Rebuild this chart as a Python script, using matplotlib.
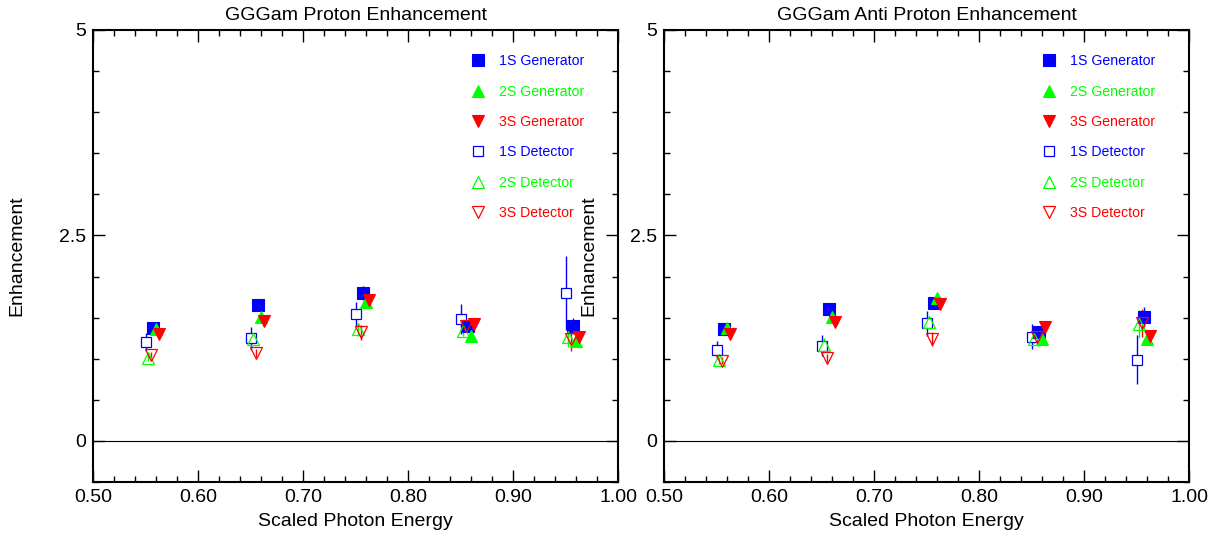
import matplotlib
matplotlib.use("Agg")
import matplotlib.pyplot as plt
from matplotlib.lines import Line2D
from matplotlib.ticker import FixedLocator, MultipleLocator

plt.rcParams['font.family'] = ['Liberation Sans', 'DejaVu Sans']

# ---- data ----
titles = ["GGGam Proton Enhancement", "GGGam Anti Proton Enhancement"]
series_names = ["1S Generator", "2S Generator", "3S Generator",
                "1S Detector", "2S Detector", "3S Detector"]

x_1s_gen = [0.5575, 0.6575, 0.7575, 0.8575, 0.9575]
x_2s_gen = [0.5600, 0.6600, 0.7600, 0.8600, 0.9600]
x_3s_gen = [0.5625, 0.6625, 0.7625, 0.8625, 0.9625]
x_1s_det = [0.5500, 0.6500, 0.7500, 0.8500, 0.9500]
x_2s_det = [0.5525, 0.6525, 0.7525, 0.8525, 0.9525]
x_3s_det = [0.5550, 0.6550, 0.7550, 0.8550, 0.9550]

# Proton panel
p_1s_gen = [1.37, 1.655, 1.80, 1.40, 1.40]
p_1s_gen_err = [0.03, 0.06, 0.08, 0.04, 0.10]
p_2s_gen = [1.36, 1.505, 1.695, 1.28, 1.22]
p_2s_gen_err = [0.03, 0.03, 0.03, 0.03, 0.03]
p_3s_gen = [1.30, 1.456, 1.72, 1.42, 1.26]
p_3s_gen_err = [0.03, 0.03, 0.03, 0.03, 0.03]
p_1s_det = [1.20, 1.25, 1.54, 1.485, 1.80]
p_1s_det_err = [0.11, 0.14, 0.15, 0.18, 0.45]
p_2s_det = [1.01, 1.24, 1.36, 1.34, 1.26]
p_2s_det_err = [0.04, 0.05, 0.08, 0.06, 0.12]
p_3s_det = [1.04, 1.07, 1.32, 1.40, 1.24]
p_3s_det_err = [0.04, 0.05, 0.09, 0.07, 0.15]

# Anti proton panel
a_1s_gen = [1.356, 1.61, 1.68, 1.32, 1.51]
a_1s_gen_err = [0.03, 0.04, 0.04, 0.05, 0.12]
a_2s_gen = [1.376, 1.51, 1.74, 1.24, 1.24]
a_2s_gen_err = [0.03, 0.03, 0.03, 0.03, 0.03]
a_3s_gen = [1.30, 1.445, 1.67, 1.39, 1.275]
a_3s_gen_err = [0.03, 0.03, 0.03, 0.03, 0.03]
a_1s_det = [1.11, 1.16, 1.43, 1.27, 0.99]
a_1s_det_err = [0.10, 0.13, 0.15, 0.15, 0.30]
a_2s_det = [0.98, 1.17, 1.45, 1.24, 1.42]
a_2s_det_err = [0.04, 0.08, 0.07, 0.05, 0.17]
a_3s_det = [0.975, 1.01, 1.24, 1.26, 1.44]
a_3s_det_err = [0.04, 0.05, 0.08, 0.06, 0.17]

x_ticks = [0.50, 0.60, 0.70, 0.80, 0.90, 1.00]
x_tick_labels = ["0.50", "0.60", "0.70", "0.80", "0.90", "1.00"]
y_ticks = [0, 2.5, 5]
y_tick_labels = ["0", "2.5", "5"]

# ---- styles ----
BLUE, GREEN, RED = "#0000ff", "#00ff00", "#ff0000"
styles = {
    "1S Generator": dict(color=BLUE, marker='s', ms=8.0, mfc=BLUE, mew=0.8),
    "2S Generator": dict(color=GREEN, marker='^', ms=8.5, mfc=GREEN, mew=0.8),
    "3S Generator": dict(color=RED, marker='v', ms=8.5, mfc=RED, mew=0.8),
    "1S Detector": dict(color=BLUE, marker='s', ms=7.8, mfc='white', mew=0.9),
    "2S Detector": dict(color=GREEN, marker='^', ms=8.0, mfc='none', mew=0.9),
    "3S Detector": dict(color=RED, marker='v', ms=8.0, mfc='none', mew=0.9),
}
label_colors = [BLUE, GREEN, RED, BLUE, GREEN, RED]

panels = [
    {
        "1S Generator": (x_1s_gen, p_1s_gen, p_1s_gen_err),
        "2S Generator": (x_2s_gen, p_2s_gen, p_2s_gen_err),
        "3S Generator": (x_3s_gen, p_3s_gen, p_3s_gen_err),
        "1S Detector": (x_1s_det, p_1s_det, p_1s_det_err),
        "2S Detector": (x_2s_det, p_2s_det, p_2s_det_err),
        "3S Detector": (x_3s_det, p_3s_det, p_3s_det_err),
    },
    {
        "1S Generator": (x_1s_gen, a_1s_gen, a_1s_gen_err),
        "2S Generator": (x_2s_gen, a_2s_gen, a_2s_gen_err),
        "3S Generator": (x_3s_gen, a_3s_gen, a_3s_gen_err),
        "1S Detector": (x_1s_det, a_1s_det, a_1s_det_err),
        "2S Detector": (x_2s_det, a_2s_det, a_2s_det_err),
        "3S Detector": (x_3s_det, a_3s_det, a_3s_det_err),
    },
]

draw_order = ["1S Detector", "1S Generator", "2S Generator", "3S Generator",
              "2S Detector", "3S Detector"]

W, H = 1223, 535
fig = plt.figure(figsize=(W / 100, H / 100), dpi=100)
axes_px = [(93, 30, 618, 482), (664, 30, 1189, 482)]
ylabel_x = [-0.128, -0.126]

for i, (l, t, r, b) in enumerate(axes_px):
    ax = fig.add_axes([l / W, 1 - b / H, (r - l) / W, (b - t) / H])
    data = panels[i]
    ax.axhline(0, color='black', lw=0.8, zorder=1)
    for name in draw_order:
        xs, ys, es = data[name]
        st = styles[name]
        ax.errorbar(xs, ys, yerr=es, fmt='none', ecolor=st['color'],
                    elinewidth=1.0, capsize=0, zorder=2)
        ax.plot(xs, ys, linestyle='none', marker=st['marker'], ms=st['ms'],
                mfc=st['mfc'], mec=st['color'], mew=st['mew'], zorder=3)
    ax.set_xlim(0.5, 1.0)
    ax.set_ylim(-0.5, 5)
    ax.xaxis.set_major_locator(FixedLocator(x_ticks))
    ax.set_xticklabels(x_tick_labels)
    ax.xaxis.set_minor_locator(MultipleLocator(0.02))
    ax.yaxis.set_major_locator(FixedLocator(y_ticks))
    ax.set_yticklabels(y_tick_labels)
    ax.yaxis.set_minor_locator(MultipleLocator(0.5))
    ax.tick_params(which='both', direction='in', top=True, right=True,
                   labelsize=14, width=1.0, color='black')
    ax.tick_params(which='major', length=8.5, pad=5)
    ax.tick_params(which='minor', length=4.3)
    for sp in ax.spines.values():
        sp.set_linewidth(1.5)
    ax.set_title(titles[i], fontsize=14, pad=7)
    ax.set_xlabel("Scaled Photon Energy", fontsize=14, labelpad=5)
    ax.set_ylabel("Enhancement", fontsize=14)
    ax.yaxis.set_label_coords(ylabel_x[i], 0.5)

    handles = []
    for name in series_names:
        st = styles[name]
        handles.append(Line2D([], [], linestyle='none', marker=st['marker'],
                              ms=st['ms'], mfc=st['mfc'], mec=st['color'],
                              mew=st['mew']))
    ax.legend(handles, series_names, loc='upper left',
              bbox_to_anchor=(0.72, 0.946), frameon=False, fontsize=10.2,
              labelcolor=label_colors, handlelength=1.0, handletextpad=1.0,
              labelspacing=1.15, borderpad=0, borderaxespad=0)

fig.savefig("out.png", dpi=100)
